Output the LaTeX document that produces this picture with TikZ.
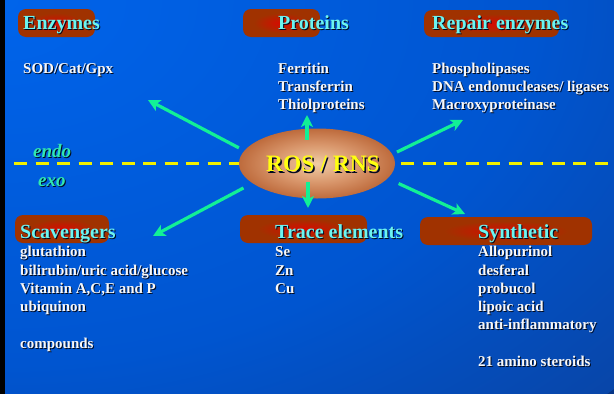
\documentclass[tikz,border=0pt]{standalone}
\usepackage{fontspec}
\setmainfont{Liberation Serif}
\usetikzlibrary{shapes.geometric,arrows.meta}

\definecolor{bgbright}{HTML}{0064EB}
\definecolor{bgmid}{HTML}{0055D0}
\definecolor{bglow}{HTML}{0944A4}
\definecolor{bgdark}{HTML}{063586}
\definecolor{boxred}{HTML}{D80A00}
\definecolor{boxbrown}{HTML}{A03200}
\definecolor{rosin}{HTML}{F0CCA4}
\definecolor{rosmid}{HTML}{D8956A}
\definecolor{roslow}{HTML}{B25828}
\definecolor{rosout}{HTML}{983C12}
\definecolor{titlec}{HTML}{6CF4F0}
\definecolor{itemc}{HTML}{F8F8F8}
\definecolor{sidec}{HTML}{30E8B0}
\definecolor{arrowc}{HTML}{12F096}
\definecolor{dashc}{HTML}{F2F000}
\definecolor{rosc}{HTML}{FFFF10}
\definecolor{shadow}{HTML}{000A20}

\pgfdeclareradialshading{bgglow}{\pgfpoint{0bp}{0bp}}{color(0bp)=(bgbright); color(16bp)=(bgmid); color(26bp)=(bglow); color(32bp)=(bgdark); color(50bp)=(bgdark)}
\pgfdeclareradialshading{boxglow}{\pgfpoint{0bp}{0bp}}{color(0bp)=(boxred); color(18bp)=(boxbrown); color(50bp)=(boxbrown)}
\pgfdeclareradialshading{rosglow}{\pgfpoint{0bp}{0bp}}{color(0bp)=(rosin); color(14bp)=(rosmid); color(30bp)=(roslow); color(46bp)=(rosout); color(50bp)=(rosout)}

% text with a small dark shadow
\newcommand{\shd}[2][1pt]{\leavevmode\rlap{\kern#1\raisebox{-#1}{\color{shadow}#2}}#2}

\tikzset{
  item/.style={anchor=base west, inner sep=0pt, text=itemc, font=\fontsize{15}{18}\selectfont\bfseries},
  title/.style={anchor=base west, inner sep=0pt, text=titlec, font=\fontsize{20}{24}\selectfont\bfseries},
  side/.style={anchor=base west, inner sep=0pt, text=sidec, font=\fontsize{19}{23}\selectfont\bfseries\itshape},
  tbox/.style={rounded corners=8pt, shading=boxglow},
  arr/.style={draw=arrowc, line width=3.2pt, -{Stealth[length=12pt, width=12pt, inset=3pt]}},
}

\begin{document}
\begin{tikzpicture}[x=1pt,y=-1pt]
\useasboundingbox (0,0) rectangle (614,394);

% Background
\fill[bgdark] (0,0) rectangle (614,394);
\begin{scope}
\clip (0,0) rectangle (614,394);
\shade[shading=bgglow] (0,0) ellipse [x radius=840, y radius=570];
\end{scope}
\fill[black] (0,0) rectangle (5,394);

% endo / exo divider
\draw[dashc, line width=3pt, dash pattern=on 13pt off 8.5pt] (14,163) -- (614,163);
\node[side] (endo) at (33,157) {\shd{endo}};
\node[side] (exo) at (38,186) {\shd{exo}};

% Centre
\node[ellipse, minimum width=156pt, minimum height=70pt, inner sep=0pt, shade, shading=rosglow] (ros) at (317,163.5) {};
\node[anchor=base, inner sep=0pt, text=rosc, font=\fontsize{23.5}{28}\selectfont\bfseries] (rostxt) at (323,171.5) {\shd[1.5pt]{ROS / RNS}};

% Arrow ends
\coordinate (tipUL) at (148,100);
\coordinate (tipUp) at (307,115);
\coordinate (tipUR) at (463,120);
\coordinate (tipLL) at (153,236);
\coordinate (tipDn) at (308,208);
\coordinate (tipLR) at (465,214);

\draw[arr, shorten <=6pt] (ros.170) -- (tipUL);
\draw[arr, shorten <=-11.5pt] (ros.north -| tipUp) -- (tipUp);
\draw[arr, shorten <=5pt] (ros.7) -- (tipUR);
\draw[arr, shorten <=10pt] (ros.197) -- (tipLL);
\draw[arr, shorten <=-16.5pt] (ros.south -| tipDn) -- (tipDn);
\draw[arr, shorten <=12pt] (ros.-12) -- (tipLR);

% Title boxes
\shade[tbox] (18,9) rectangle (95,37);
\shade[tbox] (243,9) rectangle (320,37);
\shade[tbox] (424,10) rectangle (559,37);
\shade[tbox] (15,215) rectangle (109,243);
\shade[tbox] (240,215) rectangle (367,243);
\shade[tbox] (420,217) rectangle (592,245);

% Titles
\node[title] (enz) at (23,29) {\shd{Enzymes}};
\node[title] (prot) at (278,29) {\shd{Proteins}};
\node[title] (rep) at (432,29) {\shd{Repair enzymes}};
\node[title] (scav) at (20,238) {\shd{Scavengers}};
\node[title] (trace) at (275,238) {\shd{Trace elements}};
\node[title] (syn) at (478,238) {\shd{Synthetic}};

% Lists
\node[item] (enz0) at (23,73) {\shd{SOD/Cat/Gpx}};
\foreach \lbl [count=\i from 0] in {Ferritin, Transferrin, Thiolproteins}
  \node[item] (prot\i) at (278,73+18.3*\i) {\shd{\lbl}};
\foreach \lbl [count=\i from 0] in {Phospholipases, DNA endonucleases/ ligases, Macroxyproteinase}
  \node[item] (rep\i) at (432,73+18.3*\i) {\shd{\lbl}};
\foreach \lbl [count=\i from 0] in {glutathion, bilirubin/uric acid/glucose, {Vitamin A,C,E and P}, ubiquinon}
  \node[item] (scav\i) at (20,256.7+18.3*\i) {\shd{\lbl}};
\node[item] (scav5) at (20,348.2) {\shd{compounds}};
\foreach \lbl [count=\i from 0] in {Se, Zn, Cu}
  \node[item] (trace\i) at (275,256.7+18.3*\i) {\shd{\lbl}};
\foreach \lbl [count=\i from 0] in {Allopurinol, desferal, probucol, lipoic acid, anti-inflammatory}
  \node[item] (syn\i) at (478,256.7+18.3*\i) {\shd{\lbl}};
\node[item] (syn6) at (478,366.5) {\shd{21 amino steroids}};

\end{tikzpicture}
\end{document}
